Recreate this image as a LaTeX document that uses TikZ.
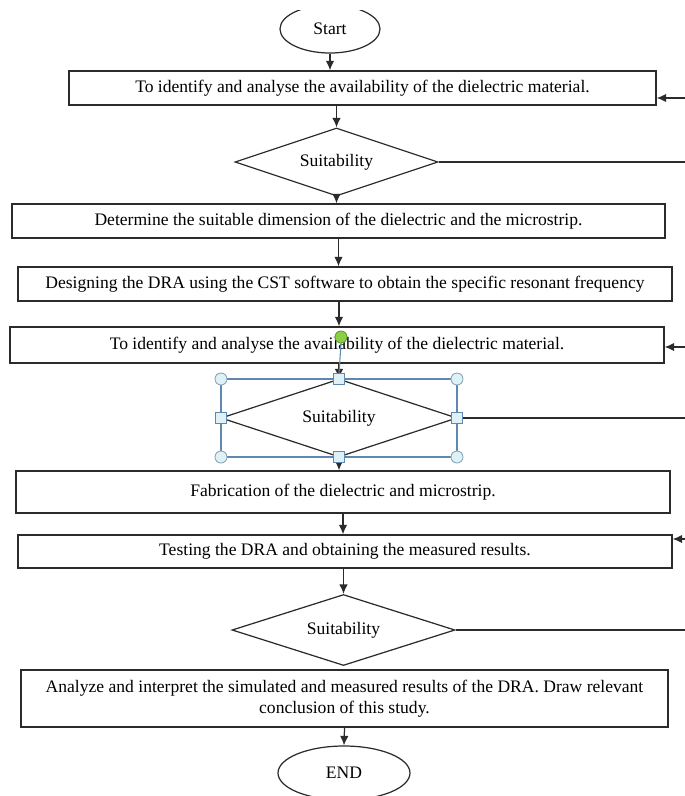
\documentclass[tikz,border=0pt]{standalone}
\usepackage{fontspec}
\setmainfont{Liberation Serif}
\usetikzlibrary{arrows.meta,shapes.geometric}
\definecolor{ink}{HTML}{2B2B2B}
\definecolor{selc}{HTML}{5F87B0}
\definecolor{hndl}{HTML}{DDF1F7}
\definecolor{hndb}{HTML}{8AA4B8}
\definecolor{rotg}{HTML}{8CCF45}
\definecolor{rotb}{HTML}{5E9E2E}
\def\R{685}
\tikzset{
  stepbox/.style 2 args={draw=ink,line width=0.8pt,rectangle,inner sep=0pt,
    minimum width=#1*0.02cm,minimum height=#2*0.02cm,align=center},
  decide/.style 2 args={draw=ink,line width=0.7pt,diamond,aspect=3,inner sep=0pt,
    minimum width=#1*0.02cm,minimum height=#2*0.02cm},
  term/.style 2 args={draw=ink,line width=0.7pt,ellipse,inner sep=0pt,
    minimum width=#1*0.02cm,minimum height=#2*0.02cm},
  arr/.style={ink,line width=0.7pt,-{Latex[length=1.9mm,width=1.7mm]}},
  back/.style={ink,line width=0.7pt},
}

\begin{document}
\begin{tikzpicture}[x=0.02cm,y=-0.02cm,font=\fontsize{10}{12}\selectfont]

\useasboundingbox (0,0) rectangle (\R,796);
\clip (0,10) rectangle (\R,796);

% ---------------------------------------------------------------- steps
\node[term={100}{48}] (start) at (330,29) {Start};
\node[stepbox={587}{34}] (idbox) at (362.5,88)
  {To identify and analyse the availability of the dielectric material.};
\node[decide={203}{68}] (dia1) at (336.5,162) {Suitability};
\node[stepbox={653}{34}] (dimbox) at (338.5,221)
  {Determine the suitable dimension of the dielectric and the microstrip.};
\node[stepbox={654}{34}] (dsgbox) at (345,284)
  {Designing the DRA using the CST software to obtain the specific resonant frequency};
\node[stepbox={654}{36}] (idbox2) at (337,345)
  {To identify and analyse the availability of the dielectric material.};
\node[decide={236}{78}] (dia2) at (339,418) {Suitability};
\node[stepbox={654}{42}] (fabbox) at (343,492)
  {Fabrication of the dielectric and microstrip.};
\node[stepbox={654}{33}] (tstbox) at (345,551.5)
  {Testing the DRA and obtaining the measured results.};
\node[decide={223}{71}] (dia3) at (343.5,630) {Suitability};
\node[stepbox={647}{57}] (anabox) at (344.5,698.5)
  {Analyze and interpret the simulated and measured results of the DRA. Draw relevant\\
   conclusion  of this study.};
\node[term={132}{54}] (end) at (344,773) {END};

% ---------------------------------------------------------------- flow downwards
\draw[arr] (start.south) -- (start.south |- idbox.north);
\draw[arr] (dia1.north |- idbox.south) -- (dia1.north);
\draw[arr] (dia1.south) -- (dia1.south |- dimbox.north);
\draw[arr] (dimbox.south) -- (dimbox.south |- dsgbox.north);
\draw[arr] (dia2.north |- dsgbox.south) -- (dia2.north |- idbox2.north);
\draw[arr] (dia2.north |- idbox2.south) -- (dia2.north);
\draw[arr] (dia2.south) -- (dia2.south |- fabbox.north);
\draw[arr] (fabbox.south) -- (fabbox.south |- tstbox.north);
\draw[arr] (dia3.north |- tstbox.south) -- (dia3.north);
\draw[arr] (anabox.south) -- (end.north);

% ---------------------------------------------------------------- feedback on the right
\coordinate (fb1) at (\R,98);
\coordinate (fb2) at (\R,347);
\coordinate (fb3) at (\R,539);
\draw[arr] (fb1) -- (fb1 -| idbox.east);
\draw[arr] (fb2) -- (fb2 -| idbox2.east);
\draw[arr] (fb3) -- (fb3 -| tstbox.east);
\draw[back] (dia1.east) -- (dia1.east -| fb1);
\draw[back] (dia2.east) -- (dia2.east -| fb1);
\draw[back] (dia3.east) -- (dia3.east -| fb1);

% ---------------------------------------------------------------- selection handles
\draw[selc,line width=0.6pt] (221,379) rectangle (457,457);
\draw[selc,line width=0.6pt] (341,343) -- (339,374);
\foreach \x/\y in {221/379,457/379,221/457,457/457}
  {\draw[hndb,fill=hndl,line width=0.5pt] (\x,\y) circle (6);}
\foreach \x/\y in {339/379,221/418,457/418,339/457}
  {\draw[selc,fill=hndl,line width=0.5pt] (\x-5.5,\y-5.5) rectangle (\x+5.5,\y+5.5);}
\draw[rotb,fill=rotg,line width=0.5pt] (341,337) circle (6);

\end{tikzpicture}
\end{document}
